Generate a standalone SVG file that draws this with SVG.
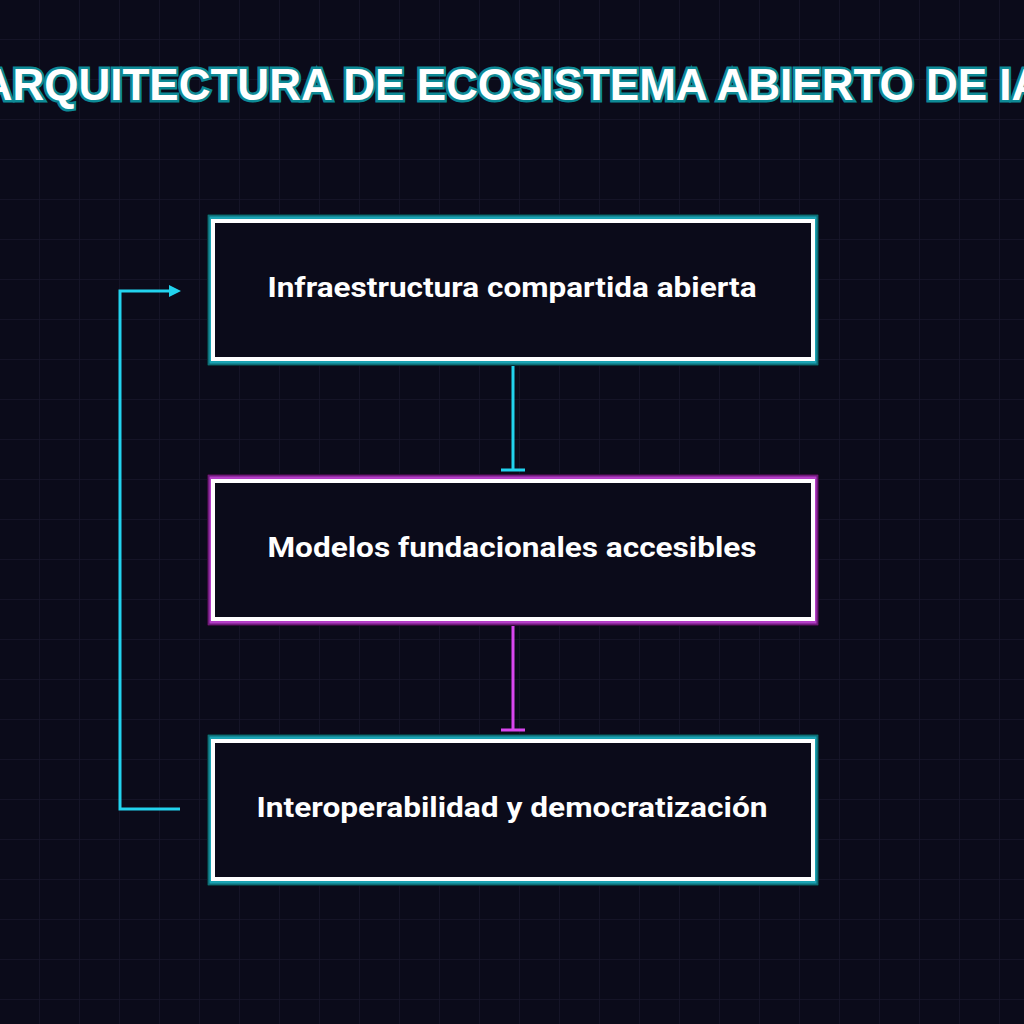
<svg xmlns="http://www.w3.org/2000/svg" width="1024" height="1024" viewBox="0 0 1024 1024">
<defs>
<pattern id="grid" width="40" height="40" patternUnits="userSpaceOnUse"><path d="M40 0V40H0" fill="none" stroke="#17162b" stroke-width="1.5"/></pattern>
<marker id="arr" markerWidth="12" markerHeight="12" refX="3" refY="6" orient="auto" markerUnits="userSpaceOnUse"><path d="M0 0L12 6L0 12Z" fill="#22d3ee"/></marker>
</defs>
<style>
.lbl{font-family:Roboto,"Liberation Sans",Arial,sans-serif;font-weight:bold;font-size:28px;fill:#fff;text-anchor:middle}
.inner{fill:#0b0b1a;stroke:#fff;stroke-width:4}
</style>
<rect width="1024" height="1024" fill="#0b0b1a"/>
<rect width="1024" height="1024" fill="url(#grid)"/>
<text x="512" y="100" font-family="Liberation Sans,Arial,sans-serif" font-weight="bold" font-size="44" text-anchor="middle" fill="#fff" stroke="#0e8a96" stroke-width="5" paint-order="stroke">ARQUITECTURA DE ECOSISTEMA ABIERTO DE IA</text>
<g id="connectors" fill="none" stroke-width="3">
<path d="M513 361V470M501 470H525" stroke="#22d3ee"/>
<path d="M513 621V730M501 730H525" stroke="#d946ef"/>
<path d="M180 809H120V291H172" stroke="#22d3ee" marker-end="url(#arr)"/>
</g>
<g id="n1">
<rect x="207" y="214" width="612" height="152" fill="#000"/>
<rect x="209" y="216" width="608" height="148" fill="none" stroke="#0e6e78" stroke-width="3"/>
<rect x="211" y="218" width="604" height="144" fill="none" stroke="#1ba3b3" stroke-width="3"/>
<rect x="213" y="221" width="600" height="138" class="inner"/>
<text x="512" y="297" class="lbl" textLength="489" lengthAdjust="spacingAndGlyphs">Infraestructura compartida abierta</text>
</g>
<g id="n2">
<rect x="207" y="474" width="612" height="152" fill="#000"/>
<rect x="209" y="476" width="608" height="148" fill="none" stroke="#6e1a7a" stroke-width="3"/>
<rect x="211" y="478" width="604" height="144" fill="none" stroke="#b33ec6" stroke-width="3"/>
<rect x="213" y="481" width="600" height="138" class="inner"/>
<text x="512" y="557" class="lbl" textLength="489" lengthAdjust="spacingAndGlyphs">Modelos fundacionales accesibles</text>
</g>
<g id="n3">
<rect x="207" y="734" width="612" height="152" fill="#000"/>
<rect x="209" y="736" width="608" height="148" fill="none" stroke="#0e6e78" stroke-width="3"/>
<rect x="211" y="738" width="604" height="144" fill="none" stroke="#1ba3b3" stroke-width="3"/>
<rect x="213" y="741" width="600" height="138" class="inner"/>
<text x="512" y="817" class="lbl" textLength="511" lengthAdjust="spacingAndGlyphs">Interoperabilidad y democratización</text>
</g>
</svg>
